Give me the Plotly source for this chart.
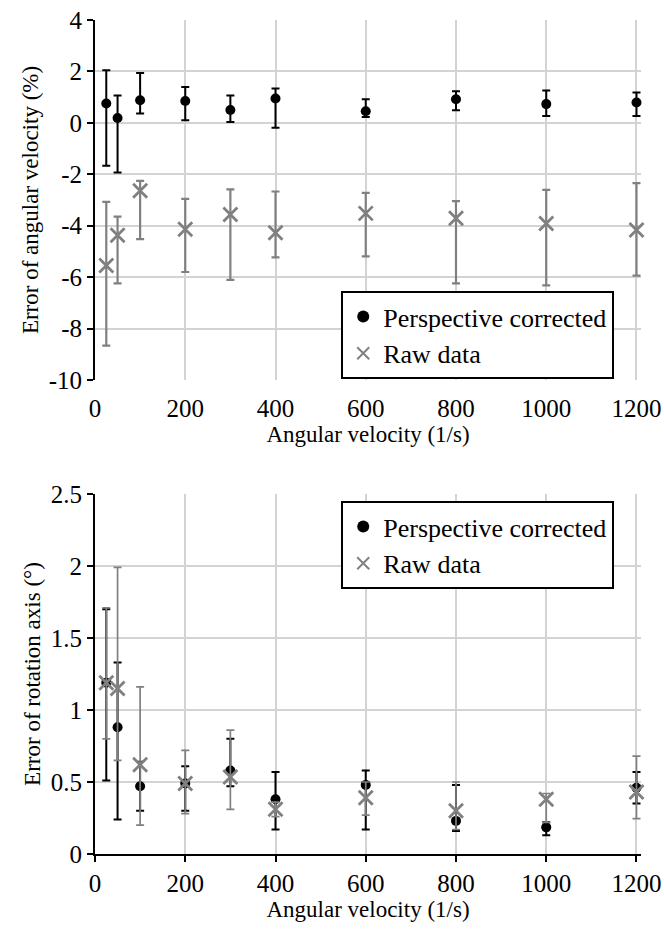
import plotly.graph_objects as go

# ---------------- data ----------------
velocity = [25, 50, 100, 200, 300, 400, 600, 800, 1000, 1200]

# Top chart: error of angular velocity (%)
av_corr = [0.75, 0.19, 0.88, 0.85, 0.50, 0.95, 0.45, 0.92, 0.73, 0.79]
av_corr_hi = [2.05, 1.06, 1.94, 1.39, 1.06, 1.34, 0.92, 1.23, 1.26, 1.18]
av_corr_lo = [-1.67, -1.93, 0.36, 0.10, 0.03, -0.19, 0.23, 0.49, 0.27, 0.27]

av_raw = [-5.55, -4.37, -2.64, -4.14, -3.56, -4.27, -3.52, -3.71, -3.91, -4.17]
av_raw_hi = [-3.07, -3.65, -2.26, -2.96, -2.59, -2.67, -2.72, -3.04, -2.61, -2.34]
av_raw_lo = [-8.66, -6.24, -4.52, -5.80, -6.11, -5.23, -5.19, -6.24, -6.32, -5.94]

# Bottom chart: error of rotation axis (deg)
ax_corr = [1.19, 0.88, 0.47, 0.49, 0.58, 0.38, 0.48, 0.23, 0.185, 0.46]
ax_corr_hi = [1.70, 1.33, 0.64, 0.61, 0.80, 0.57, 0.58, 0.48, 0.22, 0.57]
ax_corr_lo = [0.51, 0.24, 0.30, 0.30, 0.47, 0.17, 0.17, 0.16, 0.13, 0.35]

ax_raw = [1.19, 1.15, 0.62, 0.49, 0.535, 0.31, 0.39, 0.30, 0.38, 0.43]
ax_raw_hi = [1.71, 1.99, 1.16, 0.72, 0.86, 0.36, 0.50, 0.50, 0.42, 0.68]
ax_raw_lo = [0.80, 0.65, 0.20, 0.28, 0.31, 0.26, 0.27, 0.17, 0.22, 0.245]

x_ticks = [0, 200, 400, 600, 800, 1000, 1200]
top_y_ticks = [4, 2, 0, -2, -4, -6, -8, -10]
top_y_labels = ["4", "2", "0", "-2", "-4", "-6", "-8", "-10"]
bot_y_ticks = [0, 0.5, 1, 1.5, 2, 2.5]
bot_y_labels = ["0", "0.5", "1", "1.5", "2", "2.5"]

# ---------------- style ----------------
FONT = "Liberation Serif"
BLACK = "#000000"
GRAY = "#808080"
GRID = "#d3d3d3"
XMAX = 1210  # small headroom so caps at 1200 are not clipped


def err(v, hi, lo):
    return dict(type="data", symmetric=False,
                array=[h - a for a, h in zip(v, hi)],
                arrayminus=[a - l for a, l in zip(v, lo)])


fig = go.Figure()

# top chart traces
e = err(av_raw, av_raw_hi, av_raw_lo)
e.update(color=GRAY, thickness=2.2, width=4)
fig.add_trace(go.Scatter(x=velocity, y=av_raw, mode="markers", name="Raw data",
                         marker=dict(symbol="x-thin", size=14, color=GRAY,
                                     line=dict(color=GRAY, width=2.8)),
                         error_y=e, xaxis="x", yaxis="y", legend="legend",
                         cliponaxis=False, legendrank=2))
e = err(av_corr, av_corr_hi, av_corr_lo)
e.update(color=BLACK, thickness=2, width=4)
fig.add_trace(go.Scatter(x=velocity, y=av_corr, mode="markers", name="Perspective corrected",
                         marker=dict(symbol="circle", size=10, color=BLACK),
                         error_y=e, xaxis="x", yaxis="y", legend="legend",
                         cliponaxis=False, legendrank=1))

# bottom chart traces
e = err(ax_corr, ax_corr_hi, ax_corr_lo)
e.update(color=BLACK, thickness=2, width=4)
fig.add_trace(go.Scatter(x=velocity, y=ax_corr, mode="markers", name="Perspective corrected",
                         marker=dict(symbol="circle", size=10, color=BLACK),
                         error_y=e, xaxis="x2", yaxis="y2", legend="legend2",
                         cliponaxis=False, legendrank=1))
e = err(ax_raw, ax_raw_hi, ax_raw_lo)
e.update(color=GRAY, thickness=1.7, width=4)
fig.add_trace(go.Scatter(x=velocity, y=ax_raw, mode="markers", name="Raw data",
                         marker=dict(symbol="x-thin", size=14, color=GRAY,
                                     line=dict(color=GRAY, width=2.8)),
                         error_y=e, xaxis="x2", yaxis="y2", legend="legend2",
                         cliponaxis=False, legendrank=2))

tickfont = dict(family=FONT, size=25, color=BLACK)
titlefont = dict(family=FONT, size=23, color=BLACK)
legfont = dict(family=FONT, size=26, color=BLACK)

H, W = 934, 664
L, T, B = 95, 20, 80
pw = 541 * XMAX / 1200
R = W - L - pw
ph = H - T - B
top_dom = [1 - 360 / ph, 1]
bot_dom = [0, 360 / ph]
zero_pos = top_dom[0] + (0 - (-10)) / 14 * (top_dom[1] - top_dom[0])

common_x = dict(range=[0, XMAX], tickvals=x_ticks, showgrid=True, gridcolor=GRID,
                gridwidth=1.5, zeroline=False, tickfont=tickfont, automargin=False,
                title=dict(text="Angular velocity (1/s)", font=titlefont, standoff=4),
                ticks="outside", ticklen=6, tickwidth=2)

fig.update_layout(
    width=W, height=H,
    margin=dict(l=L, r=R, t=T, b=B, autoexpand=False),
    paper_bgcolor="white", plot_bgcolor="white",
    font=dict(family=FONT, color=BLACK),
    xaxis=dict(anchor="y", showline=False, tickcolor="rgba(0,0,0,0)", **common_x),
    yaxis=dict(domain=top_dom, range=[-10, 4], tickvals=top_y_ticks, ticktext=top_y_labels,
               showgrid=True, gridcolor=GRID, gridwidth=1.5, zeroline=False, automargin=False,
               showline=True, linecolor=BLACK, linewidth=2,
               ticks="outside", ticklen=6, tickwidth=2, tickcolor=BLACK,
               tickfont=tickfont,
               title=dict(text="Error of angular velocity (%)", font=titlefont, standoff=4)),
    # zero-line axis for top chart (ticks crossing both sides)
    xaxis3=dict(overlaying="x", anchor="free", position=zero_pos, range=[0, XMAX],
                tickvals=x_ticks, showticklabels=False, showgrid=False, zeroline=False,
                showline=True, linecolor=BLACK, linewidth=2, automargin=False,
                ticks="outside", ticklen=6, tickwidth=2, tickcolor=BLACK),
    xaxis4=dict(overlaying="x", anchor="free", position=zero_pos, range=[0, XMAX],
                tickvals=x_ticks, showticklabels=False, showgrid=False, zeroline=False,
                showline=False, automargin=False,
                ticks="inside", ticklen=6, tickwidth=2, tickcolor=BLACK),
    xaxis2=dict(anchor="y2", tickcolor=BLACK,
                showline=True, linecolor=BLACK, linewidth=2, **common_x),
    yaxis2=dict(domain=bot_dom, range=[0, 2.5], tickvals=bot_y_ticks, ticktext=bot_y_labels,
                showgrid=True, gridcolor=GRID, gridwidth=1.5, zeroline=False, automargin=False,
                showline=True, linecolor=BLACK, linewidth=2,
                ticks="outside", ticklen=6, tickwidth=2, tickcolor=BLACK,
                tickfont=tickfont,
                title=dict(text="Error of rotation axis (°)", font=titlefont, standoff=4)),
    legend=dict(x=(341 - L) / pw, y=(H - B - 291) / ph, xanchor="left", yanchor="top",
                bordercolor=BLACK, borderwidth=2, bgcolor="white", font=legfont,
                itemsizing="constant", tracegroupgap=0, traceorder="normal"),
    legend2=dict(x=(341 - L) / pw, y=(H - B - 501) / ph, xanchor="left", yanchor="top",
                 bordercolor=BLACK, borderwidth=2, bgcolor="white", font=legfont,
                 itemsizing="constant", tracegroupgap=0, traceorder="normal"),
    showlegend=True,
)

fig.write_html("out.html")
